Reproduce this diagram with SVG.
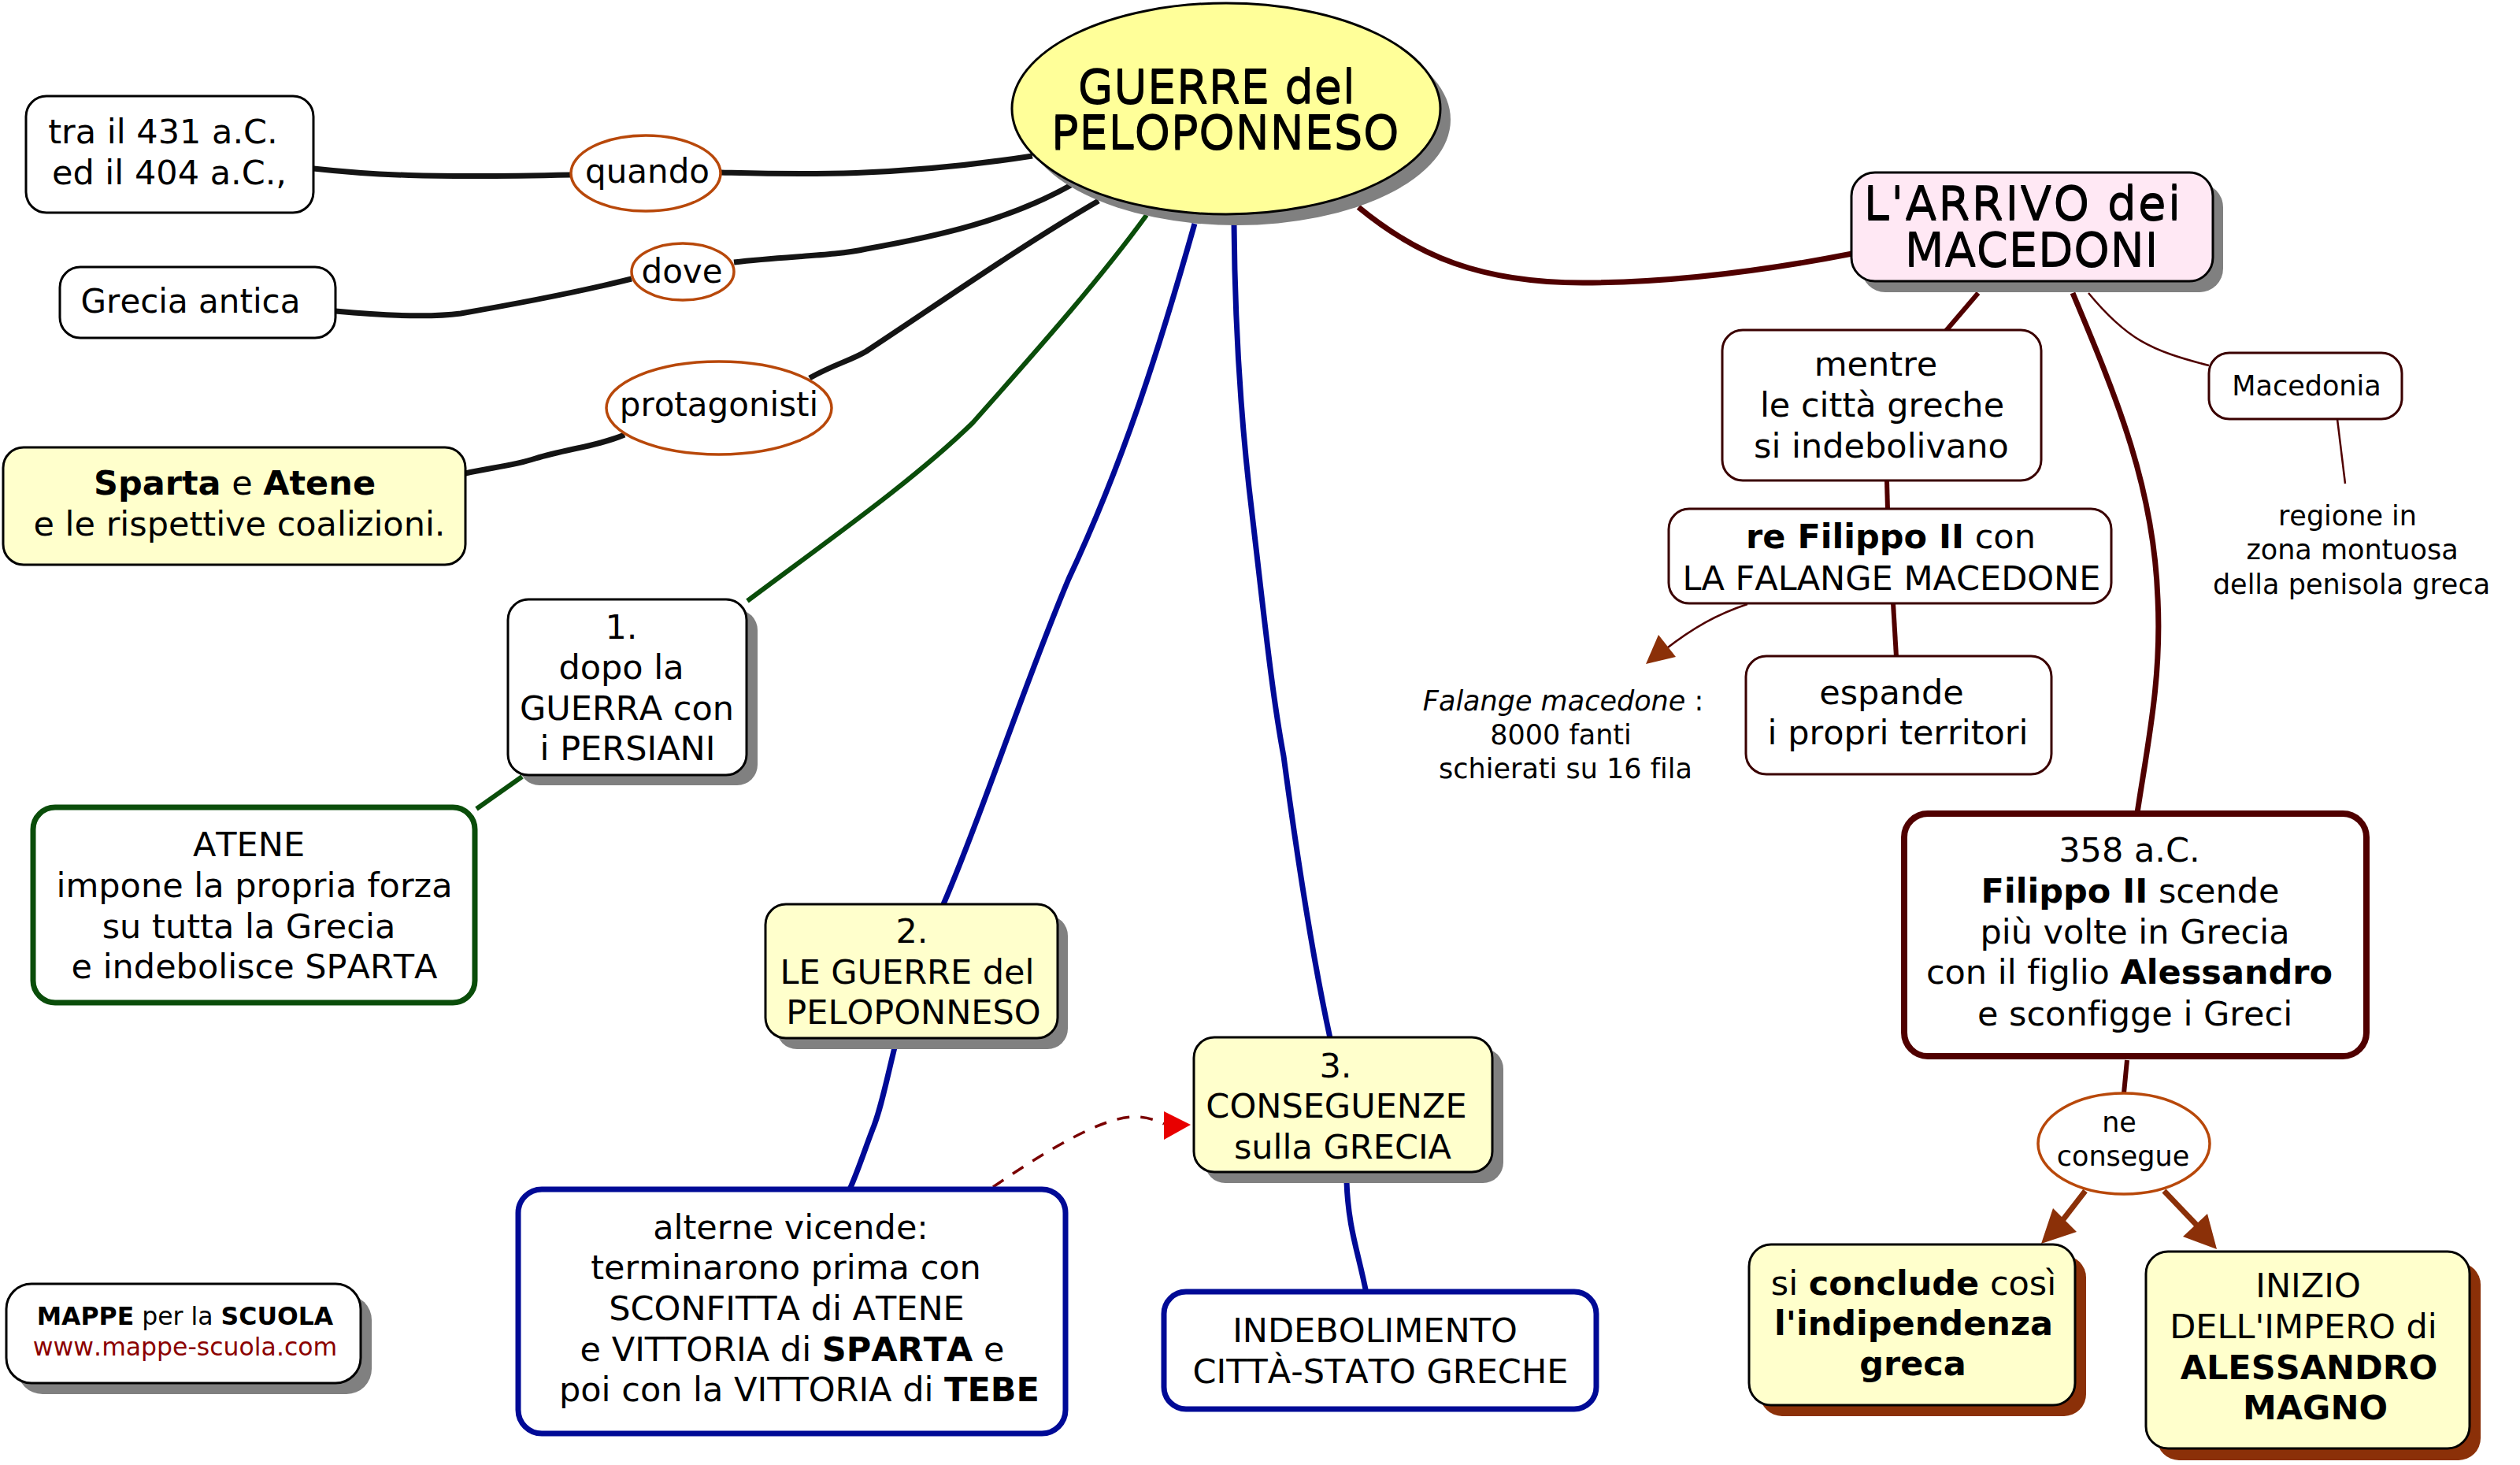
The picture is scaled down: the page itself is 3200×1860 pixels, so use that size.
<svg xmlns="http://www.w3.org/2000/svg" width="3200" height="1860" viewBox="0 0 3200 1860">
<style>
text{font-family:"DejaVu Sans","Verdana",sans-serif;font-size:43px;fill:#000;text-anchor:middle;font-kerning:none;font-variant-ligatures:none}
.b{font-weight:700}
.t{font-size:58px;filter:url(#emb)}
.s{font-size:35px}
.r{font-size:42px}
.sh{fill:#808080}
.shb{fill:#8b3008}
.n{fill:#fff;stroke:#000;stroke-width:3}
.y{fill:#ffffcc;stroke:#000;stroke-width:3}
.m{fill:#fff;stroke:#3a0000;stroke-width:3}
.g{fill:#fff;stroke:#0a4d0a;stroke-width:7}
.bl{fill:#fff;stroke:#000a96;stroke-width:7}
.mb{fill:#fff;stroke:#500000;stroke-width:8}
.o{fill:#fff;stroke:#b8480a;stroke-width:3.5}
#cn path{fill:none;stroke-linecap:butt}
.k{stroke:#141414;stroke-width:7}
.cg{stroke:#0a4d0a;stroke-width:6}
.cb{stroke:#000a96;stroke-width:7}
.cm{stroke:#500000;stroke-width:7}
.cm2{stroke:#500000;stroke-width:6}
.thin{stroke:#500000;stroke-width:2.5}
.ar{stroke:#8b3008;stroke-width:7}
</style>
<defs>
<filter id="emb" x="-5%" y="-10%" width="110%" height="125%"><feOffset in="SourceGraphic" dy="2" result="o"/><feMerge><feMergeNode in="o"/><feMergeNode in="SourceGraphic"/></feMerge></filter>
</defs>
<rect width="3200" height="1860" fill="#fff"/>
<g id="cn">
<path class="k" d="M398 214C470 222 540 226 726 222"/>
<path class="k" d="M915 219C1000 221 1130 226 1311 198"/>
<path class="k" d="M426 395C480 400 540 404 585 398C660 385 730 372 802 354"/>
<path class="k" d="M932 333C1000 325 1060 325 1100 316C1190 300 1280 280 1360 235"/>
<path class="k" d="M591 601C620 594 650 592 680 582C720 570 760 566 793 552"/>
<path class="k" d="M1028 480C1060 462 1080 458 1100 446C1200 380 1300 310 1395 255"/>
<path class="cg" d="M949 763C1060 680 1160 610 1235 537C1330 430 1400 350 1456 273"/>
<path class="cg" d="M663 986L605 1027"/>
<path class="cb" d="M1517 284C1470 450 1425 590 1357 735C1300 870 1245 1040 1198 1148"/>
<path class="cb" d="M1567 284C1568 400 1575 530 1590 653C1605 780 1615 880 1630 960C1650 1110 1670 1230 1689 1318"/>
<path class="cb" d="M1136 1330C1125 1375 1118 1410 1108 1434C1098 1460 1090 1485 1079 1510"/>
<path class="cb" d="M1710 1500C1712 1560 1725 1590 1735 1642"/>
<path class="cm" d="M1725 263C1800 325 1880 359 2010 359C2140 359 2260 340 2352 322"/>
<path class="cm2" d="M2512 372L2471 420"/>
<path class="cm2" d="M2396 610L2397 647"/>
<path class="cm2" d="M2404 766L2408 834"/>
<path class="cm" d="M2632 372C2690 510 2735 620 2740 760C2745 860 2728 940 2714 1032"/>
<path class="thin" d="M2652 372C2700 430 2730 445 2805 464"/>
<path class="thin" d="M2968 532L2978 614"/>
<path class="thin" d="M2219 767C2180 780 2150 797 2114 825"/>
<path class="cm2" d="M2701 1346L2697 1388"/>
<path class="ar" d="M2648 1512L2614 1556"/>
<path class="ar" d="M2748 1512L2790 1556"/>
<path d="M1261 1507C1330 1460 1400 1418 1440 1418C1455 1418 1465 1421 1478 1427" stroke="#7a0000" stroke-width="3.5" stroke-dasharray="16 14"/>
<polygon points="2090,843 2106,806 2128,834" fill="#8b3008"/>
<polygon points="2592,1579 2607,1534 2637,1564" fill="#8b3008"/>
<polygon points="2815,1586 2803,1541 2772,1570" fill="#8b3008"/>
<polygon points="1512,1428 1478,1411 1478,1447" fill="#e80000"/>
</g>
<g id="guerre"><ellipse class="sh" cx="1570" cy="152" rx="272" ry="134"/><ellipse cx="1557" cy="138" rx="272" ry="134" fill="#ffff99" stroke="#000" stroke-width="3"/><text class="t" x="1545" y="130" letter-spacing="0.4">GUERRE del</text><text class="t" x="1556" y="188" letter-spacing="0.6">PELOPONNESO</text></g>
<g id="tra"><rect class="n" x="33" y="122" width="365" height="148" rx="26"/><text x="207" y="182">tra il 431 a.C.</text><text x="215" y="234">ed il 404 a.C.,</text></g>
<g id="quando"><ellipse class="o" cx="820" cy="220" rx="95" ry="48"/><text class="r" x="822" y="232">quando</text></g>
<g id="grecia"><rect class="n" x="76" y="339" width="350" height="90" rx="26"/><text style="font-size:42px" x="242" y="397">Grecia antica</text></g>
<g id="dove"><ellipse class="o" cx="867" cy="345" rx="65" ry="36"/><text class="r" x="866" y="359">dove</text></g>
<g id="sparta"><rect class="y" x="4" y="568" width="587" height="149" rx="26"/><text x="298" y="628"><tspan class="b">Sparta</tspan> e <tspan class="b">Atene</tspan></text><text x="304" y="680">e le rispettive coalizioni.</text></g>
<g id="protagonisti"><ellipse class="o" cx="913" cy="518" rx="143" ry="59"/><text class="r" x="913" y="528">protagonisti</text></g>
<g id="n1"><rect class="sh" x="659" y="774" width="303" height="223" rx="26"/><rect class="n" x="645" y="761" width="303" height="223" rx="26"/><text x="789" y="811">1.</text><text x="789" y="862">dopo la</text><text x="796" y="914">GUERRA con</text><text x="797" y="965">i PERSIANI</text></g>
<g id="atene"><rect class="g" x="42" y="1025" width="561" height="248" rx="28"/><text x="316" y="1087">ATENE</text><text x="323" y="1139">impone la propria forza</text><text x="316" y="1191">su tutta la Grecia</text><text x="323" y="1242">e indebolisce SPARTA</text></g>
<g id="n2"><rect class="sh" x="986" y="1162" width="370" height="170" rx="26"/><rect class="y" x="972" y="1148" width="371" height="170" rx="26"/><text x="1158" y="1197">2.</text><text x="1152" y="1249">LE GUERRE del</text><text x="1160" y="1300">PELOPONNESO</text></g>
<g id="alterne"><rect class="bl" x="658" y="1510" width="695" height="310" rx="30"/><text x="1004" y="1573">alterne vicende:</text><text x="998" y="1624">terminarono prima con</text><text x="999" y="1676">SCONFITTA di ATENE</text><text x="1006" y="1728">e VITTORIA di <tspan class="b">SPARTA</tspan> e</text><text x="1015" y="1779">poi con la VITTORIA di <tspan class="b">TEBE</tspan></text></g>
<g id="n3"><rect class="sh" x="1530" y="1331" width="379" height="171" rx="26"/><rect class="y" x="1516" y="1317" width="379" height="171" rx="26"/><text x="1696" y="1368">3.</text><text x="1697" y="1419">CONSEGUENZE</text><text x="1705" y="1471">sulla GRECIA</text></g>
<g id="indebolimento"><rect class="bl" x="1478" y="1640" width="549" height="149" rx="28"/><text x="1746" y="1704">INDEBOLIMENTO</text><text x="1753" y="1756">CITTÀ-STATO GRECHE</text></g>
<g id="mappe"><rect class="sh" x="22" y="1644" width="450" height="126" rx="32"/><rect class="n" x="8" y="1630" width="450" height="126" rx="32"/><text style="font-size:31.5px" x="235" y="1682"><tspan class="b">MAPPE</tspan> per la <tspan class="b">SCUOLA</tspan></text><text style="font-size:31.5px;fill:#8b0000" x="235" y="1721">www.mappe-scuola.com</text></g>
<g id="macedoni"><rect class="sh" x="2364" y="233" width="459" height="138" rx="30"/><rect x="2351" y="219" width="459" height="138" rx="30" fill="#ffe8f4" stroke="#000" stroke-width="3"/><text class="t" x="2569" y="278" letter-spacing="2.2">L'ARRIVO dei</text><text class="t" x="2580" y="337" letter-spacing="0.6">MACEDONI</text></g>
<g id="mentre"><rect class="m" x="2187" y="419" width="405" height="191" rx="26"/><text x="2382" y="477">mentre</text><text x="2390" y="529">le città greche</text><text x="2389" y="581">si indebolivano</text></g>
<g id="filippo"><rect class="m" x="2119" y="646" width="562" height="120" rx="26"/><text x="2401" y="696"><tspan class="b">re Filippo II</tspan> con</text><text x="2402" y="749">LA FALANGE MACEDONE</text></g>
<g id="espande"><rect class="m" x="2217" y="833" width="388" height="150" rx="26"/><text x="2402" y="894">espande</text><text x="2410" y="945">i propri territori</text></g>
<g id="falange"><text class="s" x="1985" y="902"><tspan font-style="italic">Falange macedone</tspan> :</text><text class="s" x="1982" y="945">8000 fanti</text><text class="s" x="1988" y="988">schierati su 16 fila</text></g>
<g id="macedonia"><rect class="m" x="2805" y="448" width="245" height="84" rx="26"/><text class="s" x="2929" y="502">Macedonia</text></g>
<g id="regione"><text class="s" x="2981" y="667">regione in</text><text class="s" x="2987" y="710">zona montuosa</text><text class="s" x="2986" y="754">della penisola greca</text></g>
<g id="a358"><rect class="mb" x="2418" y="1033" width="587" height="308" rx="30"/><text x="2704" y="1094">358 a.C.</text><text x="2705" y="1146"><tspan class="b">Filippo II</tspan> scende</text><text x="2711" y="1198">più volte in Grecia</text><text x="2704" y="1249">con il figlio <tspan class="b">Alessandro</tspan></text><text x="2711" y="1302">e sconfigge i Greci</text></g>
<g id="consegue"><ellipse class="o" cx="2697" cy="1452" rx="109" ry="64"/><text class="s" x="2691" y="1437">ne</text><text class="s" x="2696" y="1480">consegue</text></g>
<g id="conclude"><rect class="shb" x="2235" y="1594" width="414" height="204" rx="28"/><rect class="y" x="2221" y="1580" width="414" height="204" rx="28"/><text x="2430" y="1644">si <tspan class="b">conclude</tspan> così</text><text class="b" x="2430" y="1695">l'indipendenza</text><text class="b" x="2429" y="1746">greca</text></g>
<g id="inizio"><rect class="shb" x="2739" y="1603" width="411" height="251" rx="28"/><rect class="y" x="2725" y="1589" width="411" height="250" rx="28"/><text x="2931" y="1647">INIZIO</text><text x="2925" y="1699">DELL'IMPERO di</text><text class="b" x="2932" y="1751">ALESSANDRO</text><text class="b" x="2940" y="1802">MAGNO</text></g>
</svg>
